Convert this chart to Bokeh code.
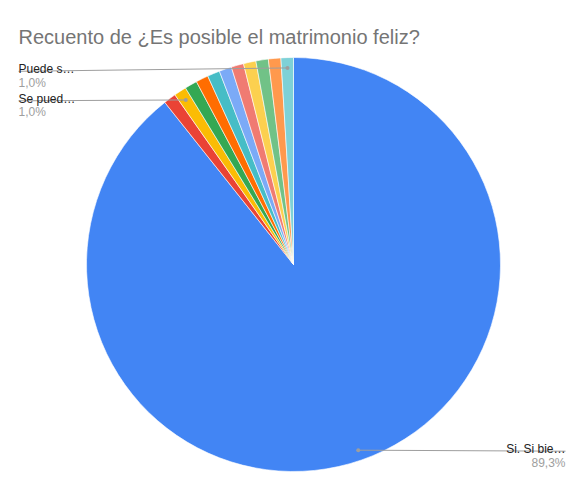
import numpy as np

from bokeh.core.properties import value
from bokeh.embed import file_html
from bokeh.models import ColumnDataSource, Range1d
from bokeh.plotting import figure
from bokeh.resources import INLINE

# respuestas y recuentos (se leen del gráfico: 92 de 103 = 89,3 %)
categories = ["Si. Si bie…", "Otra 1", "Se pued…", "Otra 3", "Otra 4", "Otra 5",
              "Otra 6", "Otra 7", "Otra 8", "Otra 9", "Otra 10", "Puede s…"]
counts = [92, 1, 1, 1, 1, 1, 1, 1, 1, 1, 1, 1]
colors = ["#4285f4", "#ea4335", "#fbbc04", "#34a853", "#ff6d01", "#46bdc6",
          "#7baaf7", "#f07b72", "#fcd04f", "#71c287", "#ff994d", "#7ed1d7"]
labelled = ["Si. Si bie…", "Se pued…", "Puede s…"]

title = "Recuento de ¿Es posible el matrimonio feliz?"

W, H = 566, 478
FONT = "Liberation Sans"

# altura (px desde arriba) de la línea de cada etiqueta
label_rows = {"Si. Si bie…": 450.7, "Se pued…": 100.3, "Puede s…": 70.8}


def top(y):
    # pixel desde arriba -> coordenada de datos
    return H - y


counts_arr = np.array(counts, dtype=float)
frac = counts_arr / counts_arr.sum()
cum_end = np.cumsum(frac)
cum_start = cum_end - frac

# google charts: sentido horario desde las 12
start = np.pi / 2 - cum_start * 2 * np.pi
end = np.pi / 2 - cum_end * 2 * np.pi

cx, cy, r = 293, top(264), 207

src = ColumnDataSource(dict(cat=categories, start=start, end=end, color=colors))

p = figure(width=W, height=H, output_backend="svg", toolbar_location=None,
           x_range=Range1d(0, W), y_range=Range1d(0, H), min_border=0)
p.axis.visible = False
p.grid.visible = False
p.outline_line_color = None

p.wedge(x=cx, y=cy, radius=r, start_angle="start", end_angle="end", direction="clock",
        fill_color="color", line_color="white", line_width=0.6, source=src)

# titulo
p.text(x=[18], y=[top(36.7)], text=[title], text_font=value(FONT), text_font_size="20px",
       text_color="#757575", text_baseline="alphabetic")

# etiquetas con líneas guía
for name in labelled:
    i = categories.index(name)
    mid = (cum_start[i] + cum_end[i]) / 2 * 2 * np.pi
    dx = cx + 0.95 * r * np.sin(mid)
    dy = cy + 0.95 * r * np.cos(mid)
    pct = f"{frac[i] * 100:.1f}%".replace(".", ",")
    if dx > cx:
        lx, align = 565, "right"
    else:
        lx, align = 18, "left"
    ly = top(label_rows[name])
    p.line([dx, lx], [dy, ly], line_color="#9e9e9e", line_width=1)
    p.scatter([dx], [dy], size=4, fill_color="#9e9e9e", line_color=None)
    p.text(x=[lx], y=[ly + 2.3], text=[name], text_font=value(FONT), text_font_size="12px",
           text_color="#222222", text_align=align, text_baseline="alphabetic")
    p.text(x=[lx], y=[ly - 11.5], text=[pct], text_font=value(FONT), text_font_size="12px",
           text_color="#9e9e9e", text_align=align, text_baseline="alphabetic")

open("out.html", "w").write(file_html(p, INLINE))
